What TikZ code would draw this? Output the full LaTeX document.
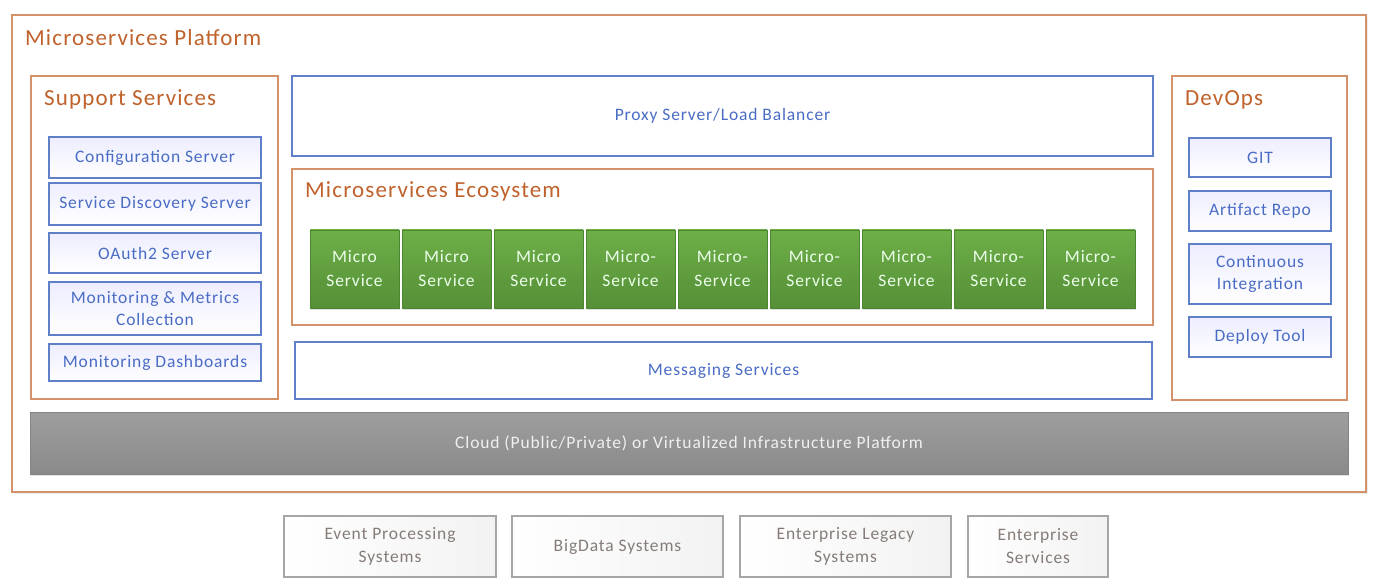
\documentclass[tikz,border=0pt]{standalone}
\usepackage{fontspec}
\setmainfont[LetterSpace=5]{Carlito}
\usetikzlibrary{shadows}
\definecolor{orb}{HTML}{D4916A}
\definecolor{ort}{HTML}{C0622B}
\definecolor{blb}{HTML}{5F80C8}
\definecolor{blt}{HTML}{4A6CC4}
\definecolor{grb}{HTML}{4C8630}
\definecolor{grt}{HTML}{6EAF48}
\definecolor{grbt}{HTML}{558F37}
\definecolor{gyb}{HTML}{A6A6A6}
\definecolor{gyt}{HTML}{857C78}
\tikzset{
  group/.style={draw=orb, line width=1.3pt, fill=white, inner sep=0pt},
  gtitle/.style={anchor=west, text=ort, font=\fontsize{23}{26}\selectfont, inner sep=0pt},
  bluebox/.style={draw=blb, line width=1.2pt, left color=blue!7!white, right color=white, shading angle=0, text=blt, font=\fontsize{17.5}{22}\selectfont, align=center, inner sep=0pt},
  plainblue/.style={draw=blb, line width=1.2pt, fill=white, text=blt, font=\fontsize{17.5}{22}\selectfont, align=center, inner sep=0pt},
  msbox/.style={draw=grb, line width=0.8pt, top color=grt, bottom color=grbt, text=green!8!white, font=\fontsize{17.5}{24}\selectfont, align=center, inner sep=0pt, minimum width=89pt, minimum height=78pt, drop shadow={opacity=0.25, shadow xshift=1pt, shadow yshift=-1.5pt}},
  cloud/.style={draw=black!48, line width=1pt, top color=black!38, bottom color=black!46, text=white!94!black, font=\fontsize{17.5}{22}\selectfont, inner sep=0pt},
  extbox/.style={draw=gyb, line width=1.2pt, left color=white, right color=black!5, text=gyt, font=\fontsize{17.5}{23}\selectfont, align=center, inner sep=0pt, minimum height=61pt},
}
\begin{document}
\begin{tikzpicture}[x=1pt, y=-1pt]
\useasboundingbox (0,0) rectangle (1384,588);
% outer platform
\node[group, minimum width=1354pt, minimum height=477pt, drop shadow={opacity=0.15}] (platform) at (689,253.5) {};
\node[gtitle] (platformt) at (25,37.5) {Microservices Platform};
% support services
\node[group, minimum width=247pt, minimum height=323pt] (support) at (154.5,237.5) {};
\node[gtitle] (supportt) at (44,99.5) {Support Services};
\node[bluebox, minimum width=212pt, minimum height=41pt] (cfg) at (155,157.5) {Configuration Server};
\node[bluebox, minimum width=212pt, minimum height=42pt] (disc) at (155,204) {Service Discovery Server};
\node[bluebox, minimum width=212pt, minimum height=40pt] (oauth) at (155,253) {OAuth2 Server};
\node[bluebox, minimum width=212pt, minimum height=53pt] (mon) at (155,308.5) {Monitoring \& Metrics\\Collection};
\node[bluebox, minimum width=212pt, minimum height=37pt] (dash) at (155,362.5) {Monitoring Dashboards};
% proxy
\node[plainblue, minimum width=861pt, minimum height=80pt] (proxy) at (722.5,116) {Proxy Server/Load Balancer};
% ecosystem
\node[group, minimum width=861pt, minimum height=156pt] (eco) at (722.5,247) {};
\node[gtitle] (ecot) at (305,191.5) {Microservices Ecosystem};
\node[msbox] (m1) at (354.5,269) {Micro\\Service};
\node[msbox] (m2) at (446.5,269) {Micro\\Service};
\node[msbox] (m3) at (538.5,269) {Micro\\Service};
\node[msbox] (m4) at (630.5,269) {Micro-\\Service};
\node[msbox] (m5) at (722.5,269) {Micro-\\Service};
\node[msbox] (m6) at (814.5,269) {Micro-\\Service};
\node[msbox] (m7) at (906.5,269) {Micro-\\Service};
\node[msbox] (m8) at (998.5,269) {Micro-\\Service};
\node[msbox] (m9) at (1090.5,269) {Micro-\\Service};
% messaging
\node[plainblue, minimum width=857pt, minimum height=57pt] (msg) at (723.5,370.5) {Messaging Services};
% devops
\node[group, minimum width=175pt, minimum height=324pt] (devops) at (1259.5,238) {};
\node[gtitle] (devopst) at (1185,99.5) {DevOps};
\node[bluebox, minimum width=142pt, minimum height=39pt] (git) at (1260,157.5) {GIT};
\node[bluebox, minimum width=142pt, minimum height=40pt] (art) at (1260,211) {Artifact Repo};
\node[bluebox, minimum width=142pt, minimum height=60pt] (ci) at (1260,274) {Continuous\\Integration};
\node[bluebox, minimum width=142pt, minimum height=40pt] (dep) at (1260,337) {Deploy Tool};
% cloud
\node[cloud, minimum width=1318pt, minimum height=62pt, drop shadow={opacity=0.2, shadow xshift=1pt, shadow yshift=-1.5pt}] (cloudbar) at (689,443) {Cloud (Public/Private) or Virtualized Infrastructure Platform};
% external systems
\node[extbox, minimum width=212pt] (evt) at (390,546.5) {Event Processing\\Systems};
\node[extbox, minimum width=211pt] (big) at (617.5,546.5) {BigData Systems};
\node[extbox, minimum width=211pt] (leg) at (845.5,546.5) {Enterprise Legacy\\Systems};
\node[extbox, minimum width=140pt] (ent) at (1038,546.5) {Enterprise\\Services};
\end{tikzpicture}
\end{document}
